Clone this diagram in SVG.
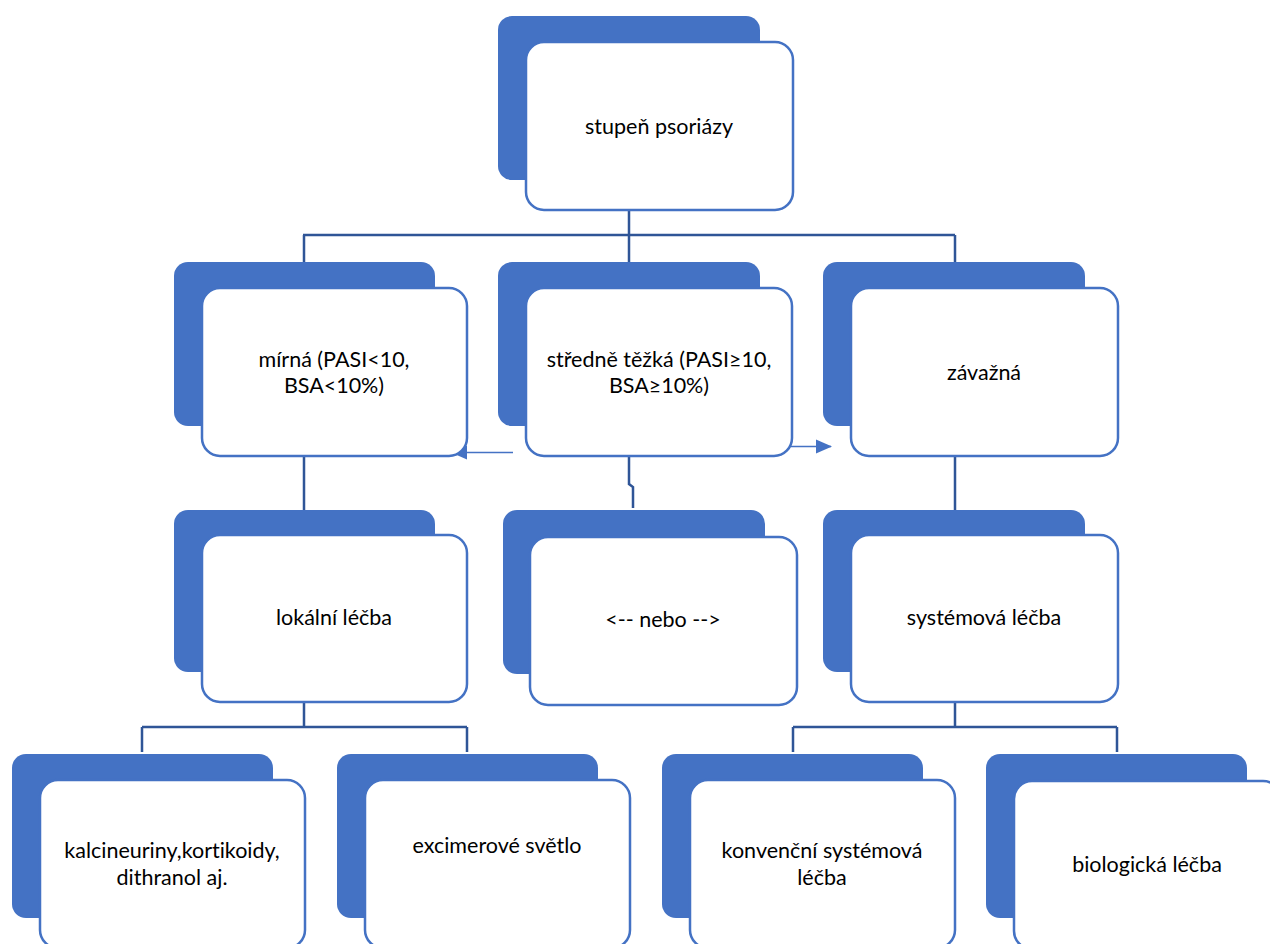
<svg xmlns="http://www.w3.org/2000/svg" width="1270" height="944" viewBox="0 0 1270 944">
<defs>
<style>
.back{fill:#4472C4;}
.front{fill:#FFFFFF;stroke:#4472C4;stroke-width:2.5;}
.lbl{font-family:Lato,"Open Sans","Liberation Sans",sans-serif;font-size:21.5px;fill:#000;text-anchor:middle;font-variant-ligatures:none;}
.conn{fill:none;stroke:#2F5597;stroke-width:2.5;}
.arr{fill:none;stroke:#4472C4;stroke-width:1.3;}
</style>
<marker id="ah" viewBox="0 0 16 16" refX="15" refY="8" markerWidth="16" markerHeight="16" markerUnits="userSpaceOnUse" orient="auto">
<path d="M0,1 L16,8 L0,15 Z" fill="#4472C4"/>
</marker>
</defs>
<rect width="1270" height="944" fill="#FFFFFF"/>
<g id="connectors">
<path class="conn" d="M629,210 V235 M303,235 H955 M304,235 V262 M629,235 V262 M955,235 V262"/>
<path class="conn" d="M304,456 V510 M955,456 V510"/>
<path class="conn" d="M629,456 V484 L633,487 V508"/>
<path class="conn" d="M304,702 V727 M142,727 H467 M142,727 V752 M467,727 V752"/>
<path class="conn" d="M955,702 V727 M793,727 H1117 M793,727 V752 M1117,727 V752"/>
<line class="arr" x1="513" y1="452.5" x2="452" y2="452.5" marker-end="url(#ah)"/>
<line class="arr" x1="770" y1="446.5" x2="831" y2="446.5" marker-end="url(#ah)"/>
</g>
<g id="n-stupen">
<rect class="back" x="498" y="16" width="262" height="164" rx="14"/>
<rect class="front" x="526" y="42" width="267" height="168" rx="18"/>
<text class="lbl" x="659" y="134">stupeň psoriázy</text>
</g>
<g id="n-mirna">
<rect class="back" x="174" y="262" width="261" height="164" rx="14"/>
<rect class="front" x="202" y="288" width="265" height="168" rx="18"/>
<text class="lbl" x="334" y="367">mírná (PASI&lt;10,</text>
<text class="lbl" x="334" y="393">BSA&lt;10%)</text>
</g>
<g id="n-stredne">
<rect class="back" x="498" y="262" width="262" height="164" rx="14"/>
<rect class="front" x="526" y="288" width="266" height="168" rx="18"/>
<text class="lbl" x="659" y="367">středně těžká (PASI≥10,</text>
<text class="lbl" x="659" y="393">BSA≥10%)</text>
</g>
<g id="n-zavazna">
<rect class="back" x="823" y="262" width="262" height="164" rx="14"/>
<rect class="front" x="851" y="288" width="267" height="168" rx="18"/>
<text class="lbl" x="984" y="380">závažná</text>
</g>
<g id="n-lokalni">
<rect class="back" x="174" y="510" width="261" height="162" rx="14"/>
<rect class="front" x="202" y="535" width="265" height="167" rx="18"/>
<text class="lbl" x="334" y="625">lokální léčba</text>
</g>
<g id="n-nebo">
<rect class="back" x="503" y="510" width="262" height="164" rx="14"/>
<rect class="front" x="530" y="537" width="267" height="168" rx="18"/>
<text class="lbl" x="663" y="627">&lt;-- nebo --&gt;</text>
</g>
<g id="n-systemova">
<rect class="back" x="823" y="510" width="262" height="162" rx="14"/>
<rect class="front" x="851" y="535" width="267" height="167" rx="18"/>
<text class="lbl" x="984" y="625">systémová léčba</text>
</g>
<g id="n-kalcineuriny">
<rect class="back" x="12" y="754" width="261" height="164" rx="14"/>
<rect class="front" x="40" y="780" width="265" height="168" rx="18"/>
<text class="lbl" x="172" y="858">kalcineuriny,kortikoidy,</text>
<text class="lbl" x="172" y="885">dithranol aj.</text>
</g>
<g id="n-excimer">
<rect class="back" x="337" y="754" width="261" height="164" rx="14"/>
<rect class="front" x="365" y="780" width="265" height="168" rx="18"/>
<text class="lbl" x="497" y="853">excimerové světlo</text>
</g>
<g id="n-konvencni">
<rect class="back" x="662" y="754" width="261" height="164" rx="14"/>
<rect class="front" x="690" y="780" width="265" height="168" rx="18"/>
<text class="lbl" x="822" y="858">konvenční systémová</text>
<text class="lbl" x="822" y="885">léčba</text>
</g>
<g id="n-biologicka">
<rect class="back" x="986" y="754" width="261" height="164" rx="14"/>
<rect class="front" x="1014" y="781" width="267" height="168" rx="18"/>
<text class="lbl" x="1147" y="872">biologická léčba</text>
</g>
</svg>
